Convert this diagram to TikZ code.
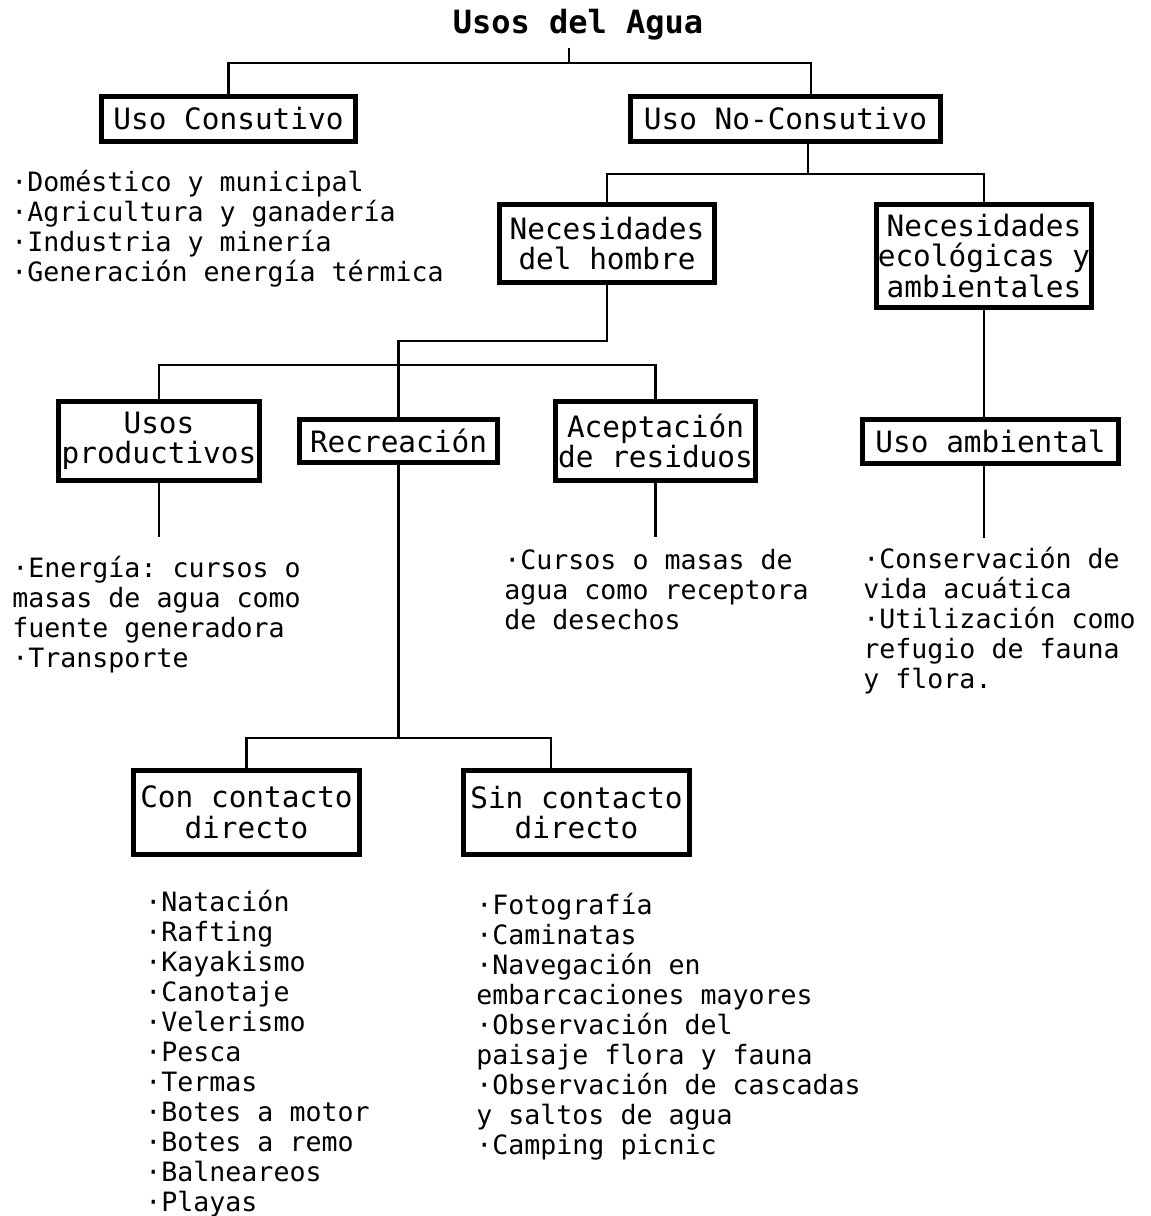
\documentclass[tikz,border=0pt]{standalone}
\usepackage{fontspec}
\setmonofont{DejaVu Sans Mono}
\usepackage{tikz}
\usetikzlibrary{positioning, calc}
\tikzset{
    usebox/.style={rectangle, draw=black, line width=2.5pt, inner sep=0pt, align=center, font=\ttfamily\fontsize{14.7}{15.3}\selectfont},
    conn/.style={line width=1.4pt},
    itemlist/.style={anchor=north west, inner sep=0pt, align=left, font=\ttfamily\fontsize{13.3}{15}\selectfont}
}
\newcommand{\firstline}{\rule{0pt}{12pt}}

\begin{document}
\begin{tikzpicture}[x=0.5pt, y=-0.5pt]
    \useasboundingbox (0,0) rectangle (1151,1216);

    % Title
    \node[font=\ttfamily\bfseries\fontsize{16}{18}\selectfont] (title) at (578,25) {Usos del Agua};

    % First level
    \node[usebox, minimum width=127pt, minimum height=22.5pt] (consutivo) at (228.5,119) {Uso Consutivo};
    \node[usebox, minimum width=155pt, minimum height=22.5pt] (noconsutivo) at (785.5,119) {Uso No-Consutivo};

    % Second level
    \node[usebox, minimum width=107.5pt, minimum height=39pt] (hombre) at (607,243.5) {Necesidades\\del hombre};
    \node[usebox, minimum width=107.5pt, minimum height=51.5pt] (ecologicas) at (984,256) {Necesidades\\ecológicas y\\ambientales};

    % Third level
    \node[usebox, minimum width=100.5pt, minimum height=39.5pt] (productivos) at (159,441) {Usos\\productivos};
    \node[usebox, minimum width=99pt, minimum height=21.5pt] (recreacion) at (398.5,441) {Recreación};
    \node[usebox, minimum width=100pt, minimum height=39.5pt] (aceptacion) at (655.5,441) {Aceptación\\de residuos};
    \node[usebox, minimum width=128pt, minimum height=22pt] (ambiental) at (990.5,441.5) {Uso ambiental};

    % Recreation split
    \node[usebox, minimum width=113pt, minimum height=42pt] (con) at (246.5,812.5) {Con contacto\\directo};
    \node[usebox, minimum width=113pt, minimum height=42pt] (sin) at (576.5,812.5) {Sin contacto\\directo};

    % Lists
    \node[itemlist] (consutivo-list) at (11,167) {\firstline·Doméstico y municipal\\·Agricultura y ganadería\\·Industria y minería\\·Generación energía térmica};
    \node[itemlist] (productivos-list) at (12,553) {\firstline·Energía: cursos o\\masas de agua como\\fuente generadora\\·Transporte};
    \node[itemlist] (aceptacion-list) at (504,545) {\firstline·Cursos o masas de\\agua como receptora\\de desechos};
    \node[itemlist] (ambiental-list) at (863,544) {\firstline·Conservación de\\vida acuática\\·Utilización como\\refugio de fauna\\y flora.};
    \node[itemlist] (con-list) at (145,887) {\firstline·Natación\\·Rafting\\·Kayakismo\\·Canotaje\\·Velerismo\\·Pesca\\·Termas\\·Botes a motor\\·Botes a remo\\·Balneareos\\·Playas};
    \node[itemlist] (sin-list) at (476,890) {\firstline·Fotografía\\·Caminatas\\·Navegación en\\embarcaciones mayores\\·Observación del\\paisaje flora y fauna\\·Observación de cascadas\\y saltos de agua\\·Camping picnic};

    % Joints
    \coordinate (j-top) at (569,63);
    \coordinate (j-nc) at (808,174);
    \coordinate (j-hombre) at (398.5,341);
    \coordinate (j-uses) at (398.5,365);
    \coordinate (j-rec) at (398.5,738);
    \coordinate (productivos-end) at (159,537);
    \coordinate (aceptacion-end) at (655.5,537);
    \coordinate (ambiental-end) at (984,538);

    % Connectors
    \draw[line width=0.6pt] (title.south -| j-top) -- (j-top);
    \draw[conn] (consutivo.north) |- (j-top) -| ($(noconsutivo.north)+(25.5,0)$);
    \draw[conn] ($(noconsutivo.south)+(22.5,0)$) -- (j-nc);
    \draw[conn] (hombre.north) |- (j-nc) -| (ecologicas.north);
    \draw[conn] (hombre.south) |- (j-hombre) -- (recreacion.north);
    \draw[conn] (productivos.north) |- (j-uses) -| (aceptacion.north);
    \draw[conn] (productivos.south) -- (productivos-end);
    \draw[conn] (aceptacion.south) -- (aceptacion-end);
    \draw[conn] (ecologicas.south) -- (ecologicas.south |- ambiental.north);
    \draw[conn] (ecologicas.south |- ambiental.south) -- (ambiental-end);
    \draw[conn] (recreacion.south) -- (j-rec);
    \draw[conn] (con.north) |- (j-rec) -| ($(sin.north)+(-25.5,0)$);
\end{tikzpicture}
\end{document}
